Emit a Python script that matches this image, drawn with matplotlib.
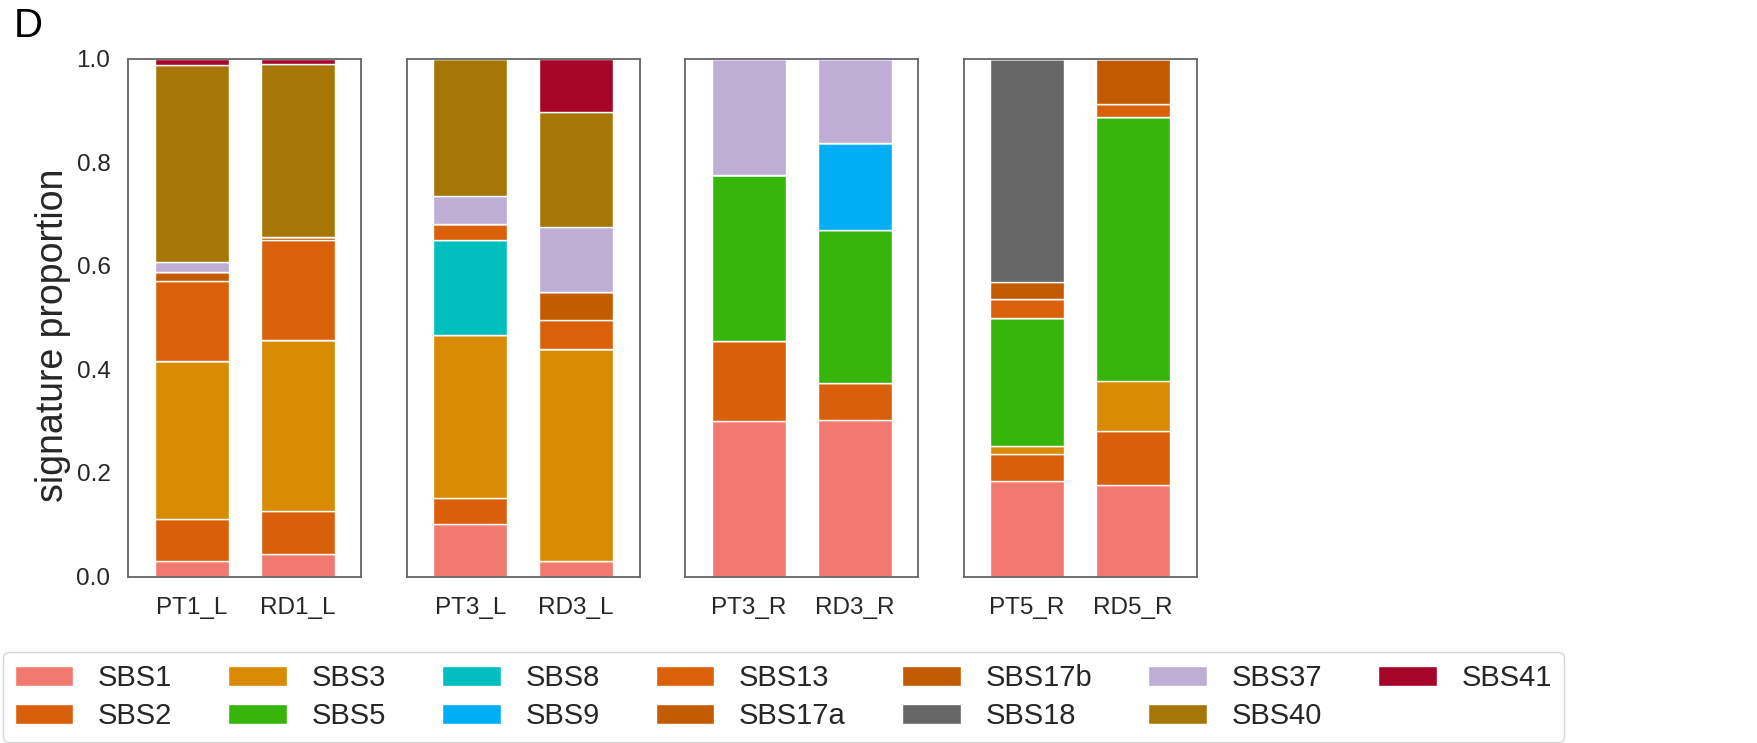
import matplotlib
matplotlib.use('Agg')
import matplotlib.pyplot as plt
from matplotlib.patches import Patch
import numpy as np

plt.rcParams['font.family'] = ['Liberation Sans', 'DejaVu Sans']
plt.rcParams['text.color'] = '0.15'
plt.rcParams['xtick.color'] = '0.15'
plt.rcParams['ytick.color'] = '0.15'
plt.rcParams['axes.labelcolor'] = '0.15'

signatures = ['SBS1', 'SBS2', 'SBS3', 'SBS5', 'SBS8', 'SBS9', 'SBS13',
              'SBS17a', 'SBS17b', 'SBS18', 'SBS37', 'SBS40', 'SBS41']
sig_colors = ['#F27970', '#D95F0B', '#D98B03', '#36B50B', '#02BFBF', '#00AEF5', '#DA600A',
              '#C35C00', '#C15A00', '#666666', '#BEAED5', '#A67707', '#A60429']

# one group per panel, two samples each
groups = [['PT1_L', 'RD1_L'], ['PT3_L', 'RD3_L'], ['PT3_R', 'RD3_R'], ['PT5_R', 'RD5_R']]

# signature proportions per sample, in the order of `signatures`
#            SBS1   SBS2   SBS3   SBS5   SBS8   SBS9   SBS13  17a    17b    SBS18  SBS37  SBS40  SBS41
PT1_L = [0.030, 0.082, 0.305, 0.000, 0.000, 0.000, 0.153, 0.019, 0.000, 0.000, 0.018, 0.380, 0.013]
RD1_L = [0.044, 0.082, 0.331, 0.000, 0.000, 0.000, 0.192, 0.007, 0.000, 0.000, 0.000, 0.334, 0.010]
PT3_L = [0.101, 0.050, 0.315, 0.000, 0.183, 0.000, 0.031, 0.000, 0.000, 0.000, 0.055, 0.265, 0.000]
RD3_L = [0.030, 0.000, 0.409, 0.000, 0.000, 0.000, 0.057, 0.053, 0.000, 0.000, 0.126, 0.222, 0.103]
PT3_R = [0.300, 0.154, 0.000, 0.322, 0.000, 0.000, 0.000, 0.000, 0.000, 0.000, 0.224, 0.000, 0.000]
RD3_R = [0.303, 0.071, 0.000, 0.296, 0.000, 0.167, 0.000, 0.000, 0.000, 0.000, 0.163, 0.000, 0.000]
PT5_R = [0.185, 0.051, 0.017, 0.246, 0.000, 0.000, 0.037, 0.000, 0.032, 0.432, 0.000, 0.000, 0.000]
RD5_R = [0.177, 0.104, 0.096, 0.511, 0.000, 0.000, 0.025, 0.000, 0.087, 0.000, 0.000, 0.000, 0.000]

samples = {'PT1_L': PT1_L, 'RD1_L': RD1_L, 'PT3_L': PT3_L, 'RD3_L': RD3_L,
           'PT3_R': PT3_R, 'RD3_R': RD3_R, 'PT5_R': PT5_R, 'RD5_R': RD5_R}

fig = plt.figure(figsize=(17.57, 7.43), dpi=100)
axes = fig.subplots(1, 4, sharey=True)
fig.subplots_adjust(left=0.0731, right=0.681, bottom=0.224, top=0.921, wspace=0.195)

for ax, names in zip(axes, groups):
    x = np.arange(len(names))
    bottom = np.zeros(len(names))
    for k, sig in enumerate(signatures):
        vals = np.array([samples[n][k] for n in names])
        ax.bar(x, vals, bottom=bottom, width=0.7, color=sig_colors[k],
               edgecolor='white', linewidth=1)
        bottom += vals
    ax.set_xticks(x)
    ax.set_xticklabels(names, fontsize=17.5)
    ax.set_xlim(-0.6, 1.6)
    ax.set_ylim(0, 1)
    for sp in ax.spines.values():
        sp.set_color('0.4')
        sp.set_linewidth(1.3)
    ax.tick_params(axis='x', length=0, pad=15)
    ax.tick_params(axis='y', length=0, pad=13, labelsize=17.5)

axes[0].set_yticks(np.arange(0, 1.01, 0.2))
axes[0].set_yticklabels(['%.1f' % v for v in np.arange(0, 1.01, 0.2)])
axes[0].set_ylabel('signature proportion', fontsize=27, labelpad=4)
axes[0].yaxis.label.set_y(0.465)
for ax in axes[1:]:
    ax.tick_params(axis='y', labelleft=False)

fig.text(0.0077, 0.9506, 'D', fontsize=29, color='black', va='baseline', ha='left')

handles = [Patch(facecolor=c, edgecolor='white', linewidth=1) for c in sig_colors]
fig.legend(handles, signatures, ncol=7, loc='lower left', bbox_to_anchor=(0.0017, 0.0015),
           fontsize=21, frameon=True, edgecolor='0.8', fancybox=True, labelspacing=0.35,
           handlelength=2, handletextpad=0.85, columnspacing=1.93, borderaxespad=0)

fig.savefig('out.png', dpi=100)
